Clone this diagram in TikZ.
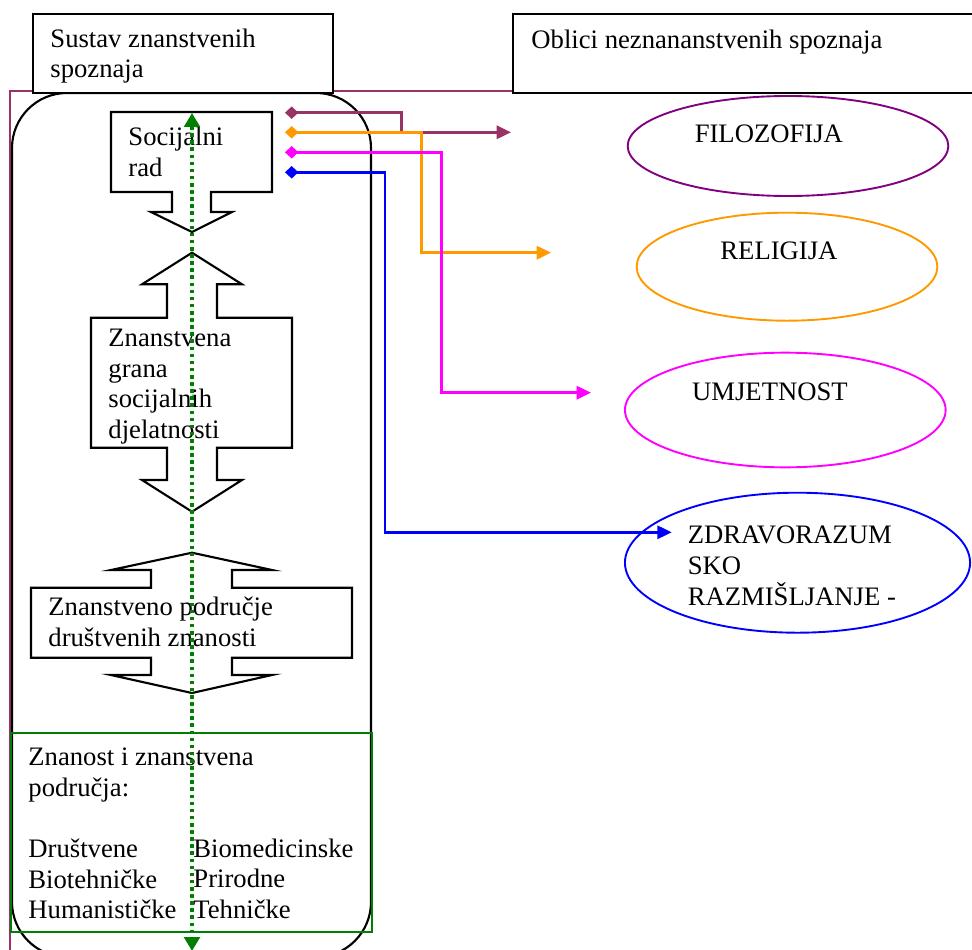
\documentclass[tikz,border=0pt]{standalone}
\usepackage{fontspec}
\setmainfont{Liberation Serif}
\usepackage{tikz}
\usetikzlibrary{arrows.meta,shapes.geometric}
\definecolor{plum}{RGB}{153,51,102}
\definecolor{orng}{RGB}{255,153,0}
\definecolor{mgnt}{RGB}{255,0,255}
\definecolor{blu}{RGB}{0,0,255}
\definecolor{purp}{RGB}{128,0,128}
\definecolor{grn}{RGB}{0,128,0}

\begin{document}
\begin{tikzpicture}[x=0.45pt,y=-0.45pt,
		txt/.style={anchor=north west, inner sep=0pt, align=left, font=\fontsize{12}{13.8}\selectfont},
		frame/.style={draw, line width=0.95pt},
		link/.style={draw=#1, line width=1.1pt, {Diamond[length=6pt,width=5.6pt]}-{Triangle[length=6.5pt,width=6pt]}},
		oval/.style={draw=#1, ellipse, line width=0.85pt, inner sep=0pt},
		dotlink/.style={draw=grn, line width=1.7pt, dash pattern=on 1.6pt off 1.6pt, {Triangle[length=6.3pt,width=7pt]}-{Triangle[length=6.3pt,width=7pt]}}]
		\clip (0,0) rectangle (972,949);
		%\draw [help lines] (0,0) grid (972,949);
		%okvir
		\draw [plum, line width=0.85pt] (513,90.7) -- (10,90.7) -- (10,960);
		\draw [frame, rounded corners=24.75pt] (12,93) rectangle (371,957);
		\draw [frame, fill=white] (33,14) rectangle (333,93);
		\draw [frame, fill=white] (513,14) rectangle (990,93);
		\node [txt] (sustav) at (50,25.2) {\strut Sustav znanstvenih\\spoznaja};
		\node [txt] (oblici) at (531,26.5) {\strut Oblici neznananstvenih spoznaja};
		%podrucja
		\draw [grn, line width=0.85pt] (11,732.7) rectangle (372,931.7);
		\node [txt] (znanost) at (28,743.5) {\strut Znanost i znanstvena\\područja:\\[13.8pt]Društvene\\Biotehničke\\Humanističke};
		\node [txt] (prirodne) at (193,835.3) {\strut Biomedicinske\\Prirodne\\Tehničke};
		%strelice
		\draw [frame] (111,112) -- (272,112) -- (272,192) -- (211,192) -- (211,212) -- (232,212)
			-- (192,232) -- (151,212) -- (172,212) -- (172,192) -- (111,192) -- cycle;
		\node [txt] (socrad) at (128,124) {\strut Socijalni\\rad};
		\draw [frame] (192,252.7) -- (242,284.3) -- (217,284.3) -- (217,317.7) -- (292,317.7) -- (292,447.7)
			-- (217,447.7) -- (217,480) -- (242,480) -- (192,511.7) -- (142,480) -- (167,480) -- (167,447.7)
			-- (91,447.7) -- (91,317.7) -- (167,317.7) -- (167,284.3) -- (142,284.3) -- cycle;
		\node [txt] (grana) at (108,324.5) {\strut Znanstvena\\grana\\socijalnih\\djelatnosti};
		\draw [frame] (192,552.7) -- (272,570) -- (232,570) -- (232,587.7) -- (352,587.7) -- (352,657.7)
			-- (232,657.7) -- (232,675) -- (272,675) -- (192,693) -- (111,675) -- (151,675) -- (151,657.7)
			-- (31,657.7) -- (31,587.7) -- (151,587.7) -- (151,570) -- (111,570) -- cycle;
		\node [txt] (podrucje) at (48,593.5) {\strut Znanstveno područje\\društvenih znanosti};
		\coordinate (gtop) at (192,113);
		\coordinate (gbot) at (192,951);
		\draw [dotlink] (gtop) -- (gbot);
		%oblici
		\node [oval=purp, minimum width=144.3pt, minimum height=45pt] (filo) at (788,146) {};
		\node [oval=orng, minimum width=135.3pt, minimum height=48.6pt] (reli) at (787,266.7) {};
		\node [oval=mgnt, minimum width=144.3pt, minimum height=51.6pt] (umj) at (785.3,410) {};
		\node [oval=blu, minimum width=155.3pt, minimum height=63pt] (zdr) at (797.5,562.7) {};
		\node [txt] (filotxt) at (694.3,120.2) {\strut FILOZOFIJA};
		\node [txt] (relitxt) at (720,237.8) {\strut RELIGIJA};
		\node [txt] (umjtxt) at (691.7,378.5) {\strut UMJETNOST};
		\node [txt] (zdrtxt) at (687.3,521.8) {\strut ZDRAVORAZUM\\SKO\\RAZMIŠLJANJE -};
		%veze
		\coordinate (d1) at (285,112.7);
		\coordinate (d2) at (285,132.3);
		\coordinate (d3) at (285,152.3);
		\coordinate (d4) at (285,172.3);
		\coordinate (t1) at (511,132.3);
		\coordinate (t2) at (551,252.7);
		\coordinate (t3) at (591,392.7);
		\coordinate (t4) at (671.7,532.3);
		\draw [link=plum] (d1) -- ++(116.7,0) |- (t1);
		\draw [link=orng] (d2) -- ++(136.7,0) |- (t2);
		\draw [link=mgnt] (d3) -- ++(156.7,0) |- (t3);
		\draw [link=blu] (d4) -- ++(100,0) |- (t4);
	\end{tikzpicture}
\end{document}
